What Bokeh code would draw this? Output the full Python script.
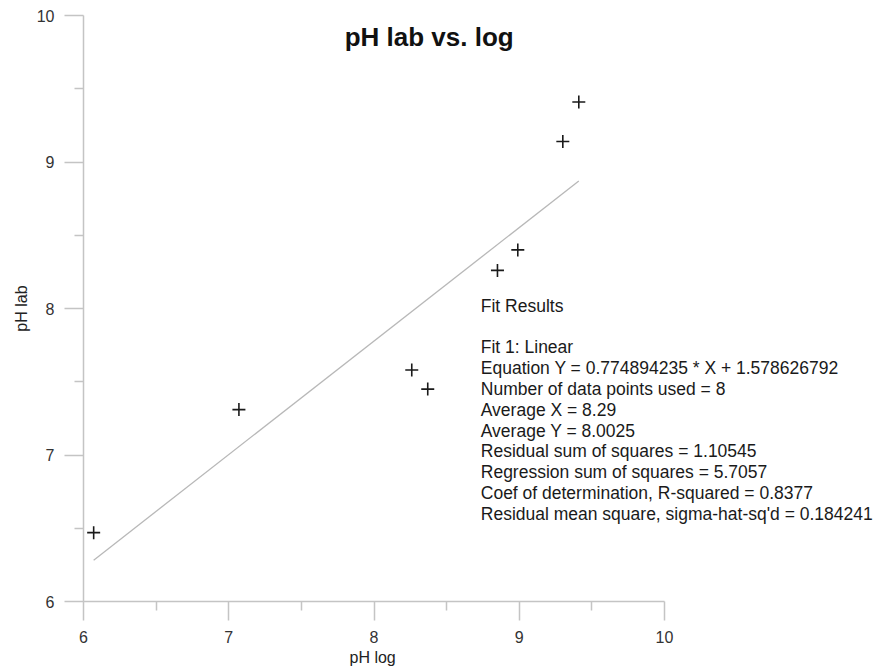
from bokeh.plotting import figure
from bokeh.models import FixedTicker, Range1d, Label, Title
from bokeh.embed import file_html
from bokeh.resources import INLINE

# ---- data ----
ph_log = [6.07, 7.07, 8.26, 8.37, 8.85, 8.99, 9.30, 9.41]
ph_lab = [6.47, 7.31, 7.58, 7.45, 8.26, 8.40, 9.14, 9.41]
slope = 0.774894235
intercept = 1.578626792
major_ticks = [6, 7, 8, 9, 10]
minor_ticks = [6.5, 7.5, 8.5, 9.5]
title_text = "pH  lab vs. log"
x_title = "pH log"
y_title = "pH lab"
fit_lines = [
    "Fit Results",
    "",
    "Fit 1: Linear",
    "Equation Y = 0.774894235 * X + 1.578626792",
    "Number of data points used = 8",
    "Average X = 8.29",
    "Average Y = 8.0025",
    "Residual sum of squares = 1.10545",
    "Regression sum of squares = 5.7057",
    "Coef of determination, R-squared = 0.8377",
    "Residual mean square, sigma-hat-sq'd = 0.184241",
]

FONT = "Liberation Sans"
AXIS_GRAY = "#c4c4c4"
LABEL_GRAY = "#333333"

# frame spans to the right page edge so the fit text is not clipped;
# the x axis itself is bounded to 6..10
p = figure(width=889, height=671, output_backend="svg", toolbar_location=None,
           x_range=Range1d(6, 6 + 806 / 145.25), y_range=Range1d(6, 10),
           min_border_left=83, min_border_right=0, min_border_top=15, min_border_bottom=70)
p.outline_line_color = None
p.xgrid.visible = False
p.ygrid.visible = False
p.background_fill_color = "white"
p.border_fill_color = "white"

for ax in (p.xaxis[0], p.yaxis[0]):
    ax.ticker = FixedTicker(ticks=major_ticks, minor_ticks=minor_ticks)
    ax.axis_line_color = AXIS_GRAY
    ax.axis_line_width = 1.5
    ax.major_tick_line_color = AXIS_GRAY
    ax.minor_tick_line_color = AXIS_GRAY
    ax.major_tick_line_width = 1.5
    ax.minor_tick_line_width = 1.5
    ax.major_tick_in = 0
    ax.minor_tick_in = 0
    ax.major_tick_out = 19
    ax.minor_tick_out = 9
    ax.major_label_text_font = FONT
    ax.major_label_text_font_size = "16px"
    ax.major_label_text_color = LABEL_GRAY
    ax.axis_label_text_font = FONT
    ax.axis_label_text_font_size = "16px"
    ax.axis_label_text_font_style = "normal"
    ax.axis_label_text_color = "#222222"

p.xaxis[0].bounds = (major_ticks[0], major_ticks[-1])
p.xaxis[0].major_label_standoff = 10
p.yaxis[0].major_label_standoff = 10
p.yaxis[0].axis_label_standoff = 4
p.yaxis[0].axis_label = y_title

# x axis title centred under the 6..10 axis (not under the wider frame)
p.add_layout(Title(text=x_title, align="left", offset=266, standoff=3,
                   text_font=FONT, text_font_size="16px", text_font_style="normal",
                   text_color="#222222"), "below")

# fit line over data range
fx = [min(ph_log), max(ph_log)]
fy = [slope * v + intercept for v in fx]
p.line(fx, fy, line_color="#b8b8b8", line_width=1.3)

p.scatter(ph_log, ph_lab, marker="cross", size=13, line_color="#1a1a1a", line_width=1.6)

# title
p.add_layout(Label(x=8.405, y=9.852, text=title_text, text_align="center",
                   text_baseline="alphabetic", text_font=FONT, text_font_size="26px",
                   text_font_style="bold", text_color="#111111"))

# fit results text
y0 = 8.018
step = 0.1418
for i, line in enumerate(fit_lines):
    if not line:
        continue
    p.add_layout(Label(x=8.735, y=y0 - i * step, text=line, text_align="left",
                       text_baseline="alphabetic", text_font=FONT,
                       text_font_size="17.5px", text_color="#1a1a1a"))

open("out.html", "w").write(file_html(p, INLINE))
